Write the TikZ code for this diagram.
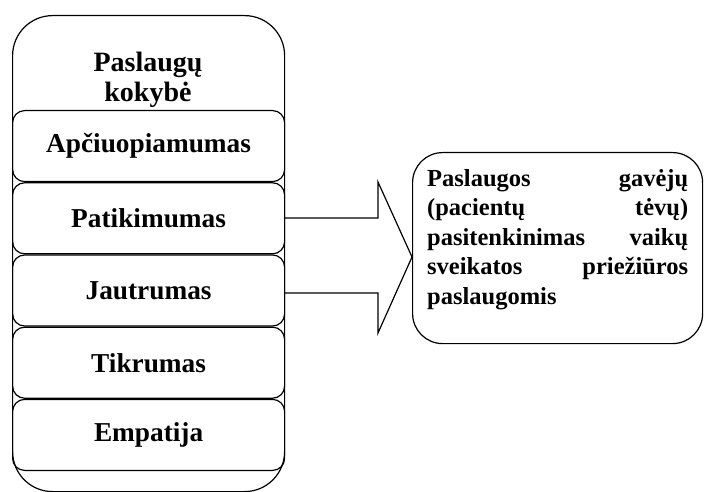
\documentclass[tikz,border=0pt]{standalone}
\usepackage{fontspec}
\setmainfont{Liberation Serif}
\usetikzlibrary{positioning}
\begin{document}
\begin{tikzpicture}[x=1pt, y=-1pt]
% quality dimensions model
\def\partwd{272pt}
\providecommand{\kokLineWidth}{1.2pt}
\providecommand{\kokPartRadius}{12pt}
\tikzset{
  part/.style={draw, line width=\kokLineWidth, rounded corners=\kokPartRadius,
    minimum width=\partwd, minimum height=71pt, inner sep=0pt,
    font=\bfseries\fontsize{27.3}{30}\selectfont},
  frame/.style={draw, line width=\kokLineWidth, rounded corners=40pt,
    minimum width=\partwd, minimum height=476pt, inner sep=0pt},
}
\useasboundingbox (0,0) rectangle (705,492);
% Outer frame and its title
\node[frame, anchor=north west] (frame) at (12,15) {};
\node[font=\bfseries\fontsize{28}{30}\selectfont, align=center] (title) at (148,80) {Paslaugų\\kokybė};
% Dimension boxes
\node[part, anchor=north west] (apc) at (12,110) {Apčiuopiamumas};
\node[part, below=0pt of apc] (pat) {Patikimumas};
\node[part, below=0pt of pat] (jau) {Jautrumas};
\node[part, below=0pt of jau] (tik) {Tikrumas};
\node[part, below=0pt of tik] (emp) {Empatija};
% Result box
\node[draw, line width=\kokLineWidth, rounded corners=30pt, minimum width=290pt,
  minimum height=191pt, inner sep=0pt, anchor=north west] (result) at (412,152) {};
\node[anchor=north west, text width=261pt, align=left, inner sep=0pt,
  font=\bfseries\fontsize{24.5}{29.5}\selectfont] (restext)
  at ([xshift=15pt,yshift=-17pt]result.north west)
  {Paslaugos\hfill gavėjų\\(pacientų\hfill tėvų)\\pasitenkinimas\hfill vaikų\\sveikatos\hfill priežiūros\\paslaugomis};
% Block arrow
\draw[line width=\kokLineWidth, line join=miter]
  (frame.east |- 0,218) -- (378,218) -- (378,182) -- (result.west |- 0,257)
  -- (378,333) -- (378,293) -- (frame.east |- 0,293);
\end{tikzpicture}
\end{document}
